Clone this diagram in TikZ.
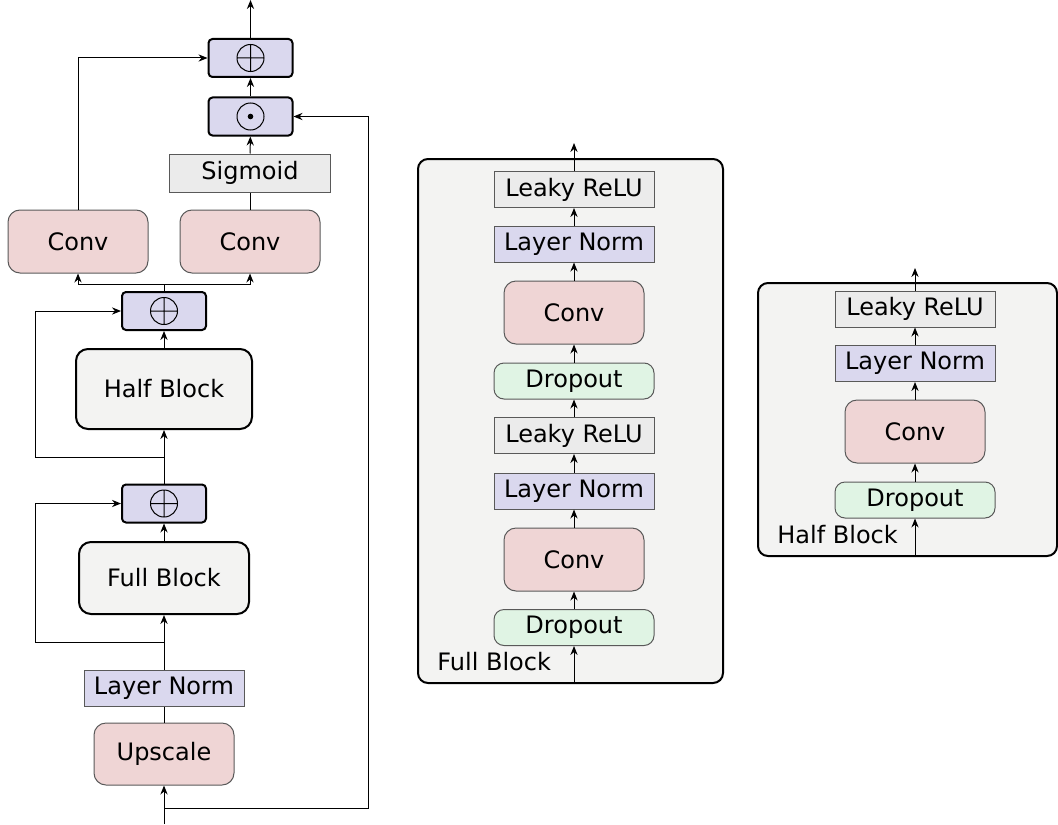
\documentclass[tikz,border=0pt]{standalone}
\usepackage{fontspec}
\setmainfont{DejaVu Sans}
\usetikzlibrary{arrows.meta}
\definecolor{normcol}{HTML}{DAD8EE}
\definecolor{convcol}{HTML}{EFD5D5}
\definecolor{dropcol}{HTML}{E0F4E4}
\definecolor{actcol}{HTML}{EBEBEB}
\definecolor{panelcol}{HTML}{F3F3F2}
\tikzset{>={Stealth[length=4.5pt,width=3.6pt]},
 flat/.style={rectangle,draw=black!65,line width=0.5pt,inner sep=0pt,minimum width=80pt,minimum height=18pt},
 lnorm/.style={flat,fill=normcol},
 act/.style={flat,fill=actcol},
 conv/.style={rectangle,rounded corners=6pt,draw=black!65,line width=0.5pt,fill=convcol,inner sep=0pt,minimum width=70pt,minimum height=31.5pt},
 drop/.style={rectangle,rounded corners=5pt,draw=black!65,line width=0.5pt,fill=dropcol,inner sep=0pt,minimum width=80pt,minimum height=18pt},
 opbox/.style={rectangle,rounded corners=2pt,draw,line width=1pt,fill=normcol,inner sep=0pt,minimum width=42pt,minimum height=19pt},
 addop/.style={opbox,path picture={
   \draw[line width=0.5pt] (path picture bounding box.center) circle[radius=6.75pt]
     ([xshift=-6.75pt]path picture bounding box.center) -- ([xshift=6.75pt]path picture bounding box.center)
     ([yshift=-6.75pt]path picture bounding box.center) -- ([yshift=6.75pt]path picture bounding box.center);}},
 mulop/.style={opbox,path picture={
   \draw[line width=0.5pt] (path picture bounding box.center) circle[radius=6.75pt];
   \fill[black] (path picture bounding box.center) circle[radius=1.4pt];}},
 block/.style={rectangle,rounded corners=6pt,draw,line width=1pt,fill=panelcol,inner sep=0pt},
 panel/.style={rectangle,rounded corners=5pt,draw,line width=1pt,fill=panelcol,inner sep=0pt},
 tag/.style={anchor=base west,inner sep=0pt},
 link/.style={line width=0.5pt},
 }

\begin{document}
\begin{tikzpicture}[x=0.5pt,y=-0.5pt,font=\fontsize{12}{14}\selectfont]
        \useasboundingbox (0,0) rectangle (1058,824);

        % main network
        \node[conv,minimum height=31pt] (up) at (164,754) {Upscale};
        \node[lnorm] (ln0) at (164,688.5) {Layer Norm};
        \node[block,minimum width=85pt,minimum height=36pt] (full) at (164,578) {Full Block};
        \node[addop] (add1) at (164,503.5) {};
        \node[block,minimum width=88pt,minimum height=40pt] (half) at (164,389) {Half Block};
        \node[addop] (add2) at (164,311) {};
        \node[conv] (convA) at (78,241.5) {Conv};
        \node[conv] (convB) at (250,241.5) {Conv};
        \node[act,minimum width=80.5pt,minimum height=19pt] (sig) at (250,173) {Sigmoid};
        \node[mulop] (mul) at (250.5,116.5) {};
        \node[addop] (add3) at (250.5,58) {};

        \coordinate (in) at (164,824);
        \coordinate (tap) at (164,808);
        \coordinate (loopR) at (368,808);
        \coordinate (s1) at (164,642);
        \coordinate (s1L) at (35,642);
        \coordinate (s2) at (164,457);
        \coordinate (s2L) at (35,457);
        \coordinate (split) at (164,284);
        \coordinate (out) at (250.5,0);

        \draw[link,->] (in) -- (up);
        \draw[link,->] (tap) -- (loopR) |- (mul);
        \draw[link] (up) -- (ln0);
        \draw[link,->] (ln0) -- (full);
        \draw[link,->] (s1) -- (s1L) |- (add1);
        \draw[link,->] (full) -- (add1);
        \draw[link,->] (add1) -- (half);
        \draw[link,->] (s2) -- (s2L) |- (add2);
        \draw[link,->] (half) -- (add2);
        \draw[link] (add2) -- (split);
        \draw[link,->] (split) -| (convA);
        \draw[link,->] (split) -| (convB);
        \draw[link] (convB) -- (sig);
        \draw[link,->] (sig) -- (mul);
        \draw[link,->] (mul) -- (add3);
        \draw[link,->] (convA) |- (add3);
        \draw[link,->] (add3) -- (out);

        % full block
        \node[panel,minimum width=152.5pt,minimum height=262pt] (fbpanel) at (570.5,421) {};
        \node[tag] (fblabel) at (437,670) {Full Block};
        \node[drop] (fbdrop2) at (574,627.5) {Dropout};
        \node[conv] (fbconv2) at (574,559.5) {Conv};
        \node[lnorm] (fbnorm2) at (574,491) {Layer Norm};
        \node[act] (fbrelu2) at (574,435.5) {Leaky ReLU};
        \node[drop] (fbdrop1) at (574,381) {Dropout};
        \node[conv] (fbconv1) at (574,312.5) {Conv};
        \node[lnorm] (fbnorm1) at (574,244) {Layer Norm};
        \node[act] (fbrelu1) at (574,189.5) {Leaky ReLU};
        \coordinate (fbout) at (574,143);

        \draw[link,->] (fbpanel.south -| fbdrop2) -- (fbdrop2);
        \draw[link,->] (fbdrop2) -- (fbconv2);
        \draw[link,->] (fbconv2) -- (fbnorm2);
        \draw[link,->] (fbnorm2) -- (fbrelu2);
        \draw[link,->] (fbrelu2) -- (fbdrop1);
        \draw[link,->] (fbdrop1) -- (fbconv1);
        \draw[link,->] (fbconv1) -- (fbnorm1);
        \draw[link,->] (fbnorm1) -- (fbrelu1);
        \draw[link,->] (fbrelu1) -- (fbout);

        % half block
        \node[panel,minimum width=149.5pt,minimum height=136.5pt] (hbpanel) at (907.5,419.5) {};
        \node[tag] (hblabel) at (777,543) {Half Block};
        \node[drop] (hbdrop) at (915,500) {Dropout};
        \node[conv] (hbconv) at (915,431.5) {Conv};
        \node[lnorm] (hbnorm) at (915,363.5) {Layer Norm};
        \node[act] (hbrelu) at (915,309) {Leaky ReLU};
        \coordinate (hbout) at (915,268);

        \draw[link,->] (hbpanel.south -| hbdrop) -- (hbdrop);
        \draw[link,->] (hbdrop) -- (hbconv);
        \draw[link,->] (hbconv) -- (hbnorm);
        \draw[link,->] (hbnorm) -- (hbrelu);
        \draw[link,->] (hbrelu) -- (hbout);
\end{tikzpicture}
\end{document}
